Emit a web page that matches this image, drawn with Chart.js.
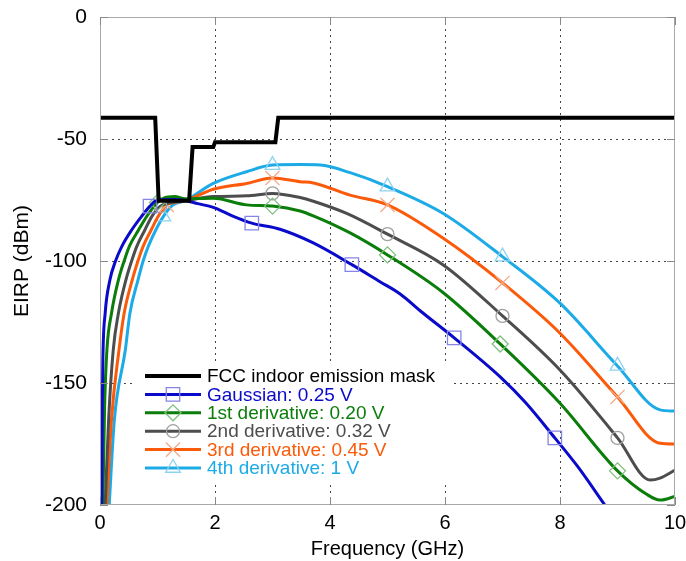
<!DOCTYPE html>
<html>
<head>
<meta charset="utf-8">
<script src="https://cdn.jsdelivr.net/npm/chart.js@4.4.1/dist/chart.umd.min.js"></script>
<style>
  html, body { margin: 0; padding: 0; background: #fff; }
  #wrap { width: 686px; height: 561px; position: relative; }
</style>
</head>
<body>
<div id="wrap"><canvas id="grafico"></canvas></div>
<script>
// dados: [frequência GHz, EIRP dBm]
const fccMask = [[0, -41.3], [0.96, -41.3], [1.02, -75.3], [1.55, -75.3], [1.61, -53.3], [1.97, -53.3], [2.0, -51.3], [3.05, -51.3], [3.1, -41.3], [10, -41.3]];

const gaussian = [[0.03, -200], [0.04, -160], [0.05, -140], [0.09, -121.4], [0.17, -108], [0.27, -100], [0.38, -94], [0.55, -87.3], [0.72, -81.8], [0.87, -77.5], [1.0, -75], [1.3, -74.8], [1.5, -75.3], [1.7, -76.5], [1.97, -78], [2.3, -81.5], [2.64, -84.5], [3.13, -87], [3.7, -92.5], [4.38, -101.5], [4.87, -108.5], [5.22, -113.5], [5.6, -121], [6.16, -131.5], [6.96, -147.5], [7.4, -158], [7.91, -172.5], [8.3, -184], [8.78, -200]];
const deriv1 = [[0.05, -200], [0.08, -160], [0.12, -136.5], [0.2, -121.4], [0.32, -107.8], [0.42, -100], [0.51, -94], [0.67, -87.3], [0.81, -81.8], [1.0, -76], [1.1, -74.3], [1.3, -73.6], [1.48, -74.5], [1.97, -74.3], [2.55, -77], [3.0, -77.5], [3.48, -79.5], [3.71, -81.5], [4.35, -88.5], [5.0, -97.5], [5.97, -113], [6.96, -134], [8.0, -158.3], [9.0, -186], [9.5, -195.5], [9.74, -198], [10, -196.5]];
const deriv2 = [[0.09, -200], [0.15, -165], [0.23, -136.5], [0.32, -121.4], [0.45, -107.8], [0.55, -100], [0.64, -94], [0.78, -87.3], [0.9, -81.8], [1.05, -77.5], [1.25, -76], [1.48, -75.3], [1.97, -73.6], [2.55, -73.3], [3.0, -72.3], [3.48, -74], [3.71, -75.5], [4.29, -80.5], [5.0, -89], [5.97, -101.6], [7.0, -122.5], [8.0, -144.7], [9.0, -172.5], [9.57, -189.8], [9.74, -189], [10, -185.7]];
const deriv3 = [[0.12, -200], [0.2, -165], [0.33, -136.5], [0.42, -121.4], [0.56, -107.8], [0.66, -100], [0.75, -94], [0.89, -87.3], [1.01, -81.8], [1.16, -77], [1.3, -76], [1.48, -75.3], [1.97, -70.6], [2.55, -68.2], [3.0, -66], [3.48, -67.5], [3.71, -68], [4.35, -73], [5.0, -77], [5.97, -90.7], [7.0, -109], [8.0, -129.6], [9.0, -155.7], [9.74, -174.7], [10, -175]];
const deriv4 = [[0.16, -200], [0.25, -165], [0.44, -136.5], [0.52, -121.4], [0.66, -107.8], [0.75, -100], [0.84, -94], [0.97, -87.3], [1.1, -81.8], [1.27, -77], [1.48, -75.3], [1.97, -68.2], [2.55, -63.4], [3.0, -60.7], [3.48, -60.5], [3.83, -60.7], [4.35, -63.8], [5.0, -69.5], [5.97, -80.5], [7.0, -98.2], [8.0, -117.3], [9.0, -143], [9.74, -161], [10, -161.5]];

// frequências onde aparecem os marcadores
const gaussianMarks = [0.87, 2.64, 4.38, 6.16, 7.91];
const deriv1Marks = [1.0, 3.0, 5.0, 6.96, 9.0];
const deriv2Marks = [1.05, 3.0, 5.0, 7.0, 9.0];
const deriv3Marks = [1.16, 3.0, 5.0, 7.0, 9.0];
const deriv4Marks = [1.1, 3.0, 5.0, 7.0, 9.0];

const xTicks = [0, 2, 4, 6, 8, 10];
const yTicks = [0, -50, -100, -150, -200];

const labels = ['FCC indoor emission mask', 'Gaussian: 0.25 V', '1st derivative: 0.20 V', '2nd derivative: 0.32 V', '3rd derivative: 0.45 V', '4th derivative: 1 V'];

const FONT = "'Liberation Sans', Arial, sans-serif";

function pontos(arr) {
    return arr.map(p => ({ x: p[0], y: p[1] }));
}

function serie(label, arr, marks, cor, corMarca, estilo, raio) {
    return {
        label: label,
        data: pontos(arr),
        borderColor: cor,
        borderWidth: 3,
        cubicInterpolationMode: 'monotone',
        pointStyle: estilo,
        pointBorderColor: corMarca,
        pointBackgroundColor: 'rgba(0,0,0,0)',
        pointBorderWidth: 1.3,
        pointRadius: ctx => (ctx.raw && marks.includes(ctx.raw.x)) ? raio : 0,
        pointHoverRadius: 0,
        marcaCor: corMarca,
        marcaRaio: raio
    };
}

// desenha um marcador simples (para a legenda)
function marcador(ctx, estilo, x, y, r, cor) {
    ctx.save();
    ctx.strokeStyle = cor;
    ctx.lineWidth = 1.3;
    ctx.beginPath();
    if (estilo === 'rect') {
        const s = r * Math.SQRT1_2;
        ctx.rect(x - s, y - s, 2 * s, 2 * s);
    } else if (estilo === 'rectRot') {
        ctx.moveTo(x - r, y); ctx.lineTo(x, y - r); ctx.lineTo(x + r, y); ctx.lineTo(x, y + r); ctx.closePath();
    } else if (estilo === 'circle') {
        ctx.arc(x, y, r, 0, Math.PI * 2);
    } else if (estilo === 'crossRot') {
        const s = r * Math.SQRT1_2;
        ctx.moveTo(x - s, y - s); ctx.lineTo(x + s, y + s);
        ctx.moveTo(x + s, y - s); ctx.lineTo(x - s, y + s);
    } else if (estilo === 'triangle') {
        ctx.moveTo(x, y - r);
        ctx.lineTo(x + r * 0.866, y + r * 0.5);
        ctx.lineTo(x - r * 0.866, y + r * 0.5);
        ctx.closePath();
    }
    ctx.stroke();
    ctx.restore();
}

const moldura = {
    id: 'moldura',
    afterDraw(chart) {
        const ctx = chart.ctx;
        const a = chart.chartArea;
        const sx = chart.scales.x, sy = chart.scales.y;
        ctx.save();
        ctx.strokeStyle = '#a8a8a8';
        ctx.lineWidth = 1;
        ctx.strokeRect(a.left + 0.5, a.top + 0.5, a.right - a.left - 1, a.bottom - a.top - 1);
        ctx.strokeStyle = '#888';
        ctx.beginPath();
        xTicks.forEach(v => {
            const px = Math.round(sx.getPixelForValue(v)) + 0.5;
            ctx.moveTo(px, a.bottom); ctx.lineTo(px, a.bottom - 8);
            ctx.moveTo(px, a.top); ctx.lineTo(px, a.top + 8);
        });
        yTicks.forEach(v => {
            const py = Math.round(sy.getPixelForValue(v)) + 0.5;
            ctx.moveTo(a.left, py); ctx.lineTo(a.left + 8, py);
            ctx.moveTo(a.right, py); ctx.lineTo(a.right - 8, py);
        });
        ctx.stroke();

        // legenda
        ctx.fillStyle = '#fff';
        ctx.fillRect(136, 363, 314, 119);
        const y0 = 376, dy = 18.4;
        chart.data.datasets.forEach((ds, i) => {
            const y = y0 + i * dy;
            ctx.strokeStyle = ds.borderColor;
            ctx.lineWidth = ds.borderWidth;
            ctx.beginPath();
            ctx.moveTo(145, y); ctx.lineTo(201, y);
            ctx.stroke();
            if (ds.marcaCor) marcador(ctx, ds.pointStyle, 173, y, ds.marcaRaio, ds.marcaCor);
            ctx.fillStyle = i === 0 ? '#000' : ds.borderColor;
            ctx.font = '19px ' + FONT;
            ctx.textBaseline = 'middle';
            ctx.textAlign = 'left';
            ctx.fillText(ds.label, 207, y + 1);
        });
        ctx.restore();
    }
};

const grade = {
    display: true,
    drawTicks: false,
    lineWidth: 1,
    color: ctx => (ctx.tick && (ctx.tick.value === 0 && ctx.scale.axis === 'y' || ctx.tick.value === -200 || ctx.tick.value === 10 || (ctx.tick.value === 0 && ctx.scale.axis === 'x'))) ? 'rgba(0,0,0,0)' : '#444'
};

// tira o espaço extra que o Chart.js reserva para os rótulos das pontas
function semFolga(s) {
    s.paddingTop = 0; s.paddingBottom = 0; s.paddingLeft = 0; s.paddingRight = 0;
}

const ctx = document.getElementById('grafico').getContext('2d');
const grafico = new Chart(ctx, {
    type: 'line',
    data: {
        datasets: [
            {
                label: labels[0],
                data: pontos(fccMask),
                borderColor: '#000',
                borderWidth: 4,
                tension: 0,
                pointRadius: 0,
                pointHoverRadius: 0
            },
            serie(labels[1], gaussian, gaussianMarks, '#0a0acb', '#8585e6', 'rect', 9.5),
            serie(labels[2], deriv1, deriv1Marks, '#0b7d0b', '#80bf80', 'rectRot', 8),
            serie(labels[3], deriv2, deriv2Marks, '#4d4d4d', '#a0a0a0', 'circle', 6.5),
            serie(labels[4], deriv3, deriv3Marks, '#fb5a0a', '#f5a987', 'crossRot', 10),
            serie(labels[5], deriv4, deriv4Marks, '#1cabe6', '#8dd2f0', 'triangle', 8.5)
        ]
    },
    options: {
        responsive: true,
        maintainAspectRatio: false,
        animation: false,
        layout: { padding: { left: 0, top: 17, right: 11, bottom: 0 } },
        plugins: {
            legend: { display: false },
            tooltip: { enabled: false }
        },
        scales: {
            x: {
                type: 'linear',
                min: 0,
                max: 10,
                afterFit: s => { s.height = 56; semFolga(s); },
                afterBuildTicks: s => { s.ticks = xTicks.map(v => ({ value: v })); },
                grid: grade,
                border: { display: false, dash: [2, 4] },
                ticks: { padding: 6, color: '#000', font: { family: FONT, size: 20 }, maxRotation: 0 },
                title: { display: true, text: 'Frequency (GHz)', color: '#000', font: { family: FONT, size: 20 }, padding: { top: 0, bottom: 0 } }
            },
            y: {
                min: -200,
                max: 0,
                afterFit: s => { s.width = 100; semFolga(s); },
                afterBuildTicks: s => { s.ticks = yTicks.map(v => ({ value: v })); },
                grid: grade,
                border: { display: false, dash: [2, 4] },
                ticks: { padding: 13, color: '#000', font: { family: FONT, size: 21 } },
                title: { display: true, text: 'EIRP (dBm)', color: '#000', font: { family: FONT, size: 21 }, padding: { top: 10, bottom: 0 } }
            }
        }
    },
    plugins: [moldura]
});
</script>
</body>
</html>
